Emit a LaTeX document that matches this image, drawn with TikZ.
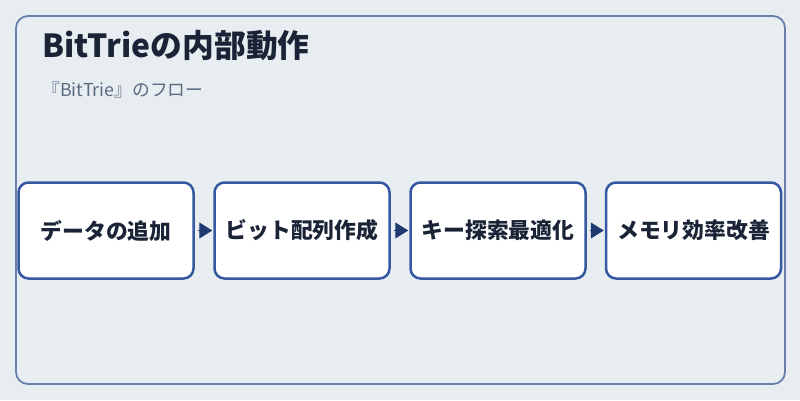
\documentclass[tikz,border=0pt]{standalone}
\usepackage{fontspec}
\setmainfont{Noto Sans CJK JP}
\usetikzlibrary{arrows.meta}

\definecolor{bgcol}{HTML}{E8EDF2}
\definecolor{framecol}{HTML}{6A7FAB}
\definecolor{boxcol}{HTML}{3558A0}
\definecolor{arrowcol}{HTML}{1F3A70}
\definecolor{titlecol}{HTML}{1A2436}
\definecolor{subcol}{HTML}{5A6B82}

\tikzset{
  stepbox/.style={draw=boxcol, line width=2.5pt, fill=white, rounded corners=10pt,
    minimum width=175pt, minimum height=96pt, inner sep=0pt,
    font=\fontsize{21.8}{24}\selectfont\bfseries, text=titlecol},
  flow/.style={-{Triangle[length=13pt,width=16pt]}, arrowcol, line width=1pt,
    shorten <=3pt, shorten >=1pt}
}

\begin{document}
\begin{tikzpicture}[x=1pt,y=-1pt]
        % Background
        \fill[bgcol] (0,0) rectangle (800,400);
        \useasboundingbox (0,0) rectangle (800,400);

        % Frame
        \draw[framecol, line width=1.8pt, rounded corners=12pt] (16,16) rectangle (785,384);

        % Title and subtitle
        \node[anchor=base west, inner sep=0pt, text=titlecol, font=\fontsize{31.8}{36}\selectfont\bfseries] (title) at (42,57) {BitTrieの内部動作};
        \node[anchor=base west, inner sep=0pt, text=subcol, font=\fontsize{17.8}{20}\selectfont] (subtitle) at (42,96) {『BitTrie』のフロー};

        % Steps
        \node[stepbox] (add) at (106,230.5) {データの追加};
        \node[stepbox] (bits) at (302,230.5) {ビット配列作成};
        \node[stepbox] (search) at (498,230.5) {キー探索最適化};
        \node[stepbox] (memory) at (693.5,230.5) {メモリ効率改善};

        % Flow arrows
        \draw[flow] (add) -- (bits);
        \draw[flow] (bits) -- (search);
        \draw[flow] (search) -- (memory);

\end{tikzpicture}
\end{document}
